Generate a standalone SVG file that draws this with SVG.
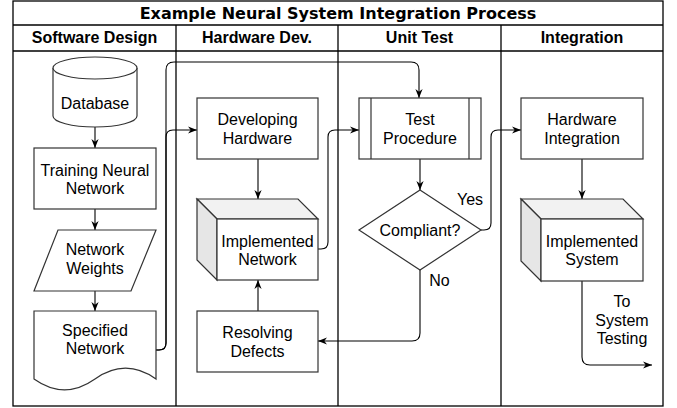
<svg xmlns="http://www.w3.org/2000/svg" width="677" height="408" viewBox="0 0 677 408">
<defs>
<style>
.lane{fill:none;stroke:#000;stroke-width:1.3}
.node{fill:#fff;stroke:#333;stroke-width:1.2}
.top{fill:#f2f2f2;stroke:#333;stroke-width:1.2}
.side{fill:#e6e6e6;stroke:#333;stroke-width:1.2}
.edge{fill:none;stroke:#000;stroke-width:1.1;marker-end:url(#arr)}
.t{font-family:"Liberation Sans",Arial,sans-serif;font-size:16px;fill:#000;text-anchor:middle}
.h{font-family:"Liberation Sans",Arial,sans-serif;font-size:16px;font-weight:bold;fill:#000;text-anchor:middle}
.title{font-family:"DejaVu Sans",Verdana,sans-serif;font-size:16px;font-weight:bold;fill:#000;text-anchor:middle}
</style>
<marker id="arr" viewBox="0 0 10 10" refX="10" refY="5" markerWidth="9" markerHeight="9" markerUnits="userSpaceOnUse" orient="auto">
<path d="M0,1 L10,5 L0,9 L3,5 Z" fill="#000"/>
</marker>
</defs>
<rect x="0" y="0" width="677" height="408" fill="#fff"/>
<g id="pool">
<rect class="lane" x="13" y="1" width="650" height="405"/>
<line class="lane" x1="13" y1="25" x2="663" y2="25"/>
<line class="lane" x1="13" y1="51" x2="663" y2="51"/>
<line class="lane" x1="176" y1="25" x2="176" y2="406"/>
<line class="lane" x1="338" y1="25" x2="338" y2="406"/>
<line class="lane" x1="501" y1="25" x2="501" y2="406"/>
<text class="title" x="338" y="19">Example Neural System Integration Process</text>
<text class="h" x="94.5" y="43">Software Design</text>
<text class="h" x="257" y="43">Hardware Dev.</text>
<text class="h" x="419.5" y="43">Unit Test</text>
<text class="h" x="582" y="43">Integration</text>
</g>
<g id="connectors">
<path class="edge" d="M95,127 L95,148"/>
<path class="edge" d="M95,209 L95,230"/>
<path class="edge" d="M95,291 L95,311"/>
<path class="edge" d="M156,350 L159,350 Q166,350 166,343 L166,137 Q166,130 173,130 L197,130"/>
<path class="edge" d="M156,350 L159,350 Q166,350 166,343 L166,70 Q166,62 174,62 L411,62 Q419,62 419,70 L419,98"/>
<path class="edge" d="M258,159 L258,199"/>
<path class="edge" d="M318,249 L321,249 Q328,249 328,242 L328,137 Q328,130 335,130 L359,130"/>
<path class="edge" d="M258,311 L258,280"/>
<path class="edge" d="M420,159 L420,190"/>
<path class="edge" d="M420,270 L420,333 Q420,341 412,341 L318,341"/>
<path class="edge" d="M481,230 L484,230 Q491,230 491,223 L491,137 Q491,130 498,130 L521,130"/>
<path class="edge" d="M582,159 L582,199"/>
<path class="edge" d="M582,281 L582,357 Q582,365 590,365 L652,365"/>
</g>
<g id="database">
<path class="node" d="M53,68 A42,11 0 0 1 137,68 L137,116 A42,11 0 0 1 53,116 Z"/>
<path class="node" d="M53,68 A42,11 0 0 0 137,68" fill="none"/>
<text class="t" x="95" y="109">Database</text>
</g>
<g id="training">
<rect class="node" x="34" y="148" width="122" height="61"/>
<text class="t" x="95" y="176">Training Neural</text>
<text class="t" x="95" y="194">Network</text>
</g>
<g id="weights">
<path class="node" d="M58,230 L156,230 L131,291 L34,291 Z"/>
<text class="t" x="95" y="255">Network</text>
<text class="t" x="95" y="274">Weights</text>
</g>
<g id="specified">
<path class="node" d="M34,311 L156,311 L156,379 Q125.5,357.4 95,379 Q64.5,400.6 34,379 Z"/>
<text class="t" x="95" y="336">Specified</text>
<text class="t" x="95" y="354">Network</text>
</g>
<g id="developing">
<rect class="node" x="197" y="98" width="121" height="61"/>
<text class="t" x="257.5" y="125">Developing</text>
<text class="t" x="257.5" y="143.5">Hardware</text>
</g>
<g id="implemented-network">
<path class="top" d="M197,199 L298,199 L318,219 L217,219 Z"/>
<path class="side" d="M197,199 L217,219 L217,280 L197,260 Z"/>
<rect class="node" x="217" y="219" width="101" height="61"/>
<text class="t" x="267.5" y="246.5">Implemented</text>
<text class="t" x="267.5" y="265">Network</text>
</g>
<g id="resolving">
<rect class="node" x="197" y="311" width="121" height="61"/>
<text class="t" x="257.5" y="338">Resolving</text>
<text class="t" x="257.5" y="356.5">Defects</text>
</g>
<g id="test-procedure">
<rect class="node" x="359" y="98" width="122" height="61"/>
<line class="node" x1="371" y1="98" x2="371" y2="159"/>
<line class="node" x1="469" y1="98" x2="469" y2="159"/>
<text class="t" x="420" y="125">Test</text>
<text class="t" x="420" y="143.5">Procedure</text>
</g>
<g id="compliant">
<path class="node" d="M420,190 L481,230 L420,270 L359,230 Z"/>
<text class="t" x="420" y="235.5">Compliant?</text>
</g>
<g id="labels">
<text class="t" x="470" y="205">Yes</text>
<text class="t" x="439.5" y="286">No</text>
<text class="t" x="622" y="307">To</text>
<text class="t" x="622" y="325.5">System</text>
<text class="t" x="622" y="344">Testing</text>
</g>
<g id="hardware-integration">
<rect class="node" x="521" y="98" width="122" height="61"/>
<text class="t" x="582" y="125">Hardware</text>
<text class="t" x="582" y="143.5">Integration</text>
</g>
<g id="implemented-system">
<path class="top" d="M521,199 L623,199 L643,219 L541,219 Z"/>
<path class="side" d="M521,199 L541,219 L541,281 L521,261 Z"/>
<rect class="node" x="541" y="219" width="102" height="62"/>
<text class="t" x="592" y="246.5">Implemented</text>
<text class="t" x="592" y="265">System</text>
</g>
</svg>
